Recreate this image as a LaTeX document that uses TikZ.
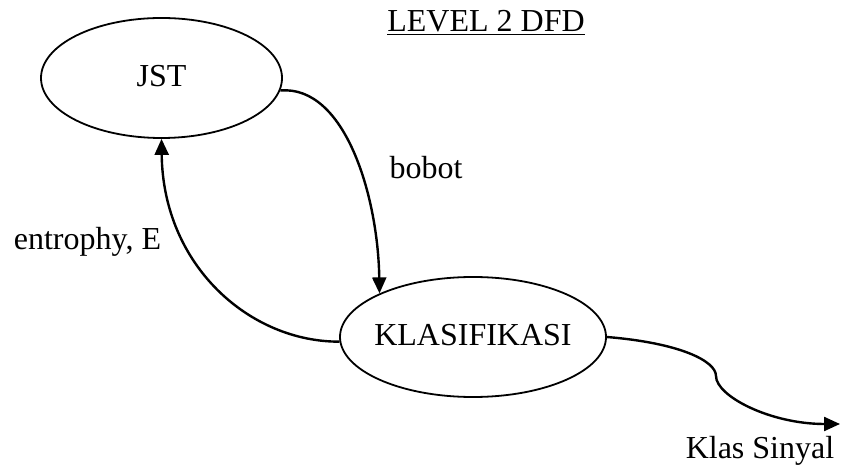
\documentclass[tikz,border=0pt]{standalone}
\usepackage{fontspec}
\setmainfont{Liberation Serif}
\usetikzlibrary{shapes.geometric,arrows.meta}
\begin{document}
\begin{tikzpicture}[x=1pt,y=1pt,
  proc/.style={draw,ellipse,line width=1.8pt,inner sep=0pt},
  flow/.style={line width=2.4pt,-{Triangle[length=16pt,width=14pt]}},
  lbl/.style={inner sep=0pt,anchor=base,font=\fontsize{32}{38}\selectfont}]
\useasboundingbox (0,0) rectangle (841,466);
% processes
\node[proc,minimum width=241pt,minimum height=120pt] (jst) at (161.5,388) {};
\node[lbl] at (161.5,379) {JST};
\node[proc,minimum width=266pt,minimum height=120pt] (kls) at (473,129) {};
\node[lbl] at (473,120) {KLASIFIKASI};
% title
\node[lbl] (title) at (486,434) {\underline{LEVEL 2 DFD}};
% data flows
\coordinate (out) at (840,42);
\draw[flow] (jst.-6) .. controls (345,381) and (378,270) .. (kls.155);
\draw[flow] (kls.182) .. controls (250,124) and (163,200) .. (jst.south);
\draw[flow] (kls.east) .. controls (680,123) and (716,105) .. (716,90)
  .. controls (716,70) and (770,42) .. (out);
% labels
\node[lbl] (wgt) at (426,287) {bobot};
\node[lbl] (ent) at (87.5,216) {entrophy, E};
\node[lbl] (cls) at (760,8) {Klas Sinyal};
\end{tikzpicture}
\end{document}
